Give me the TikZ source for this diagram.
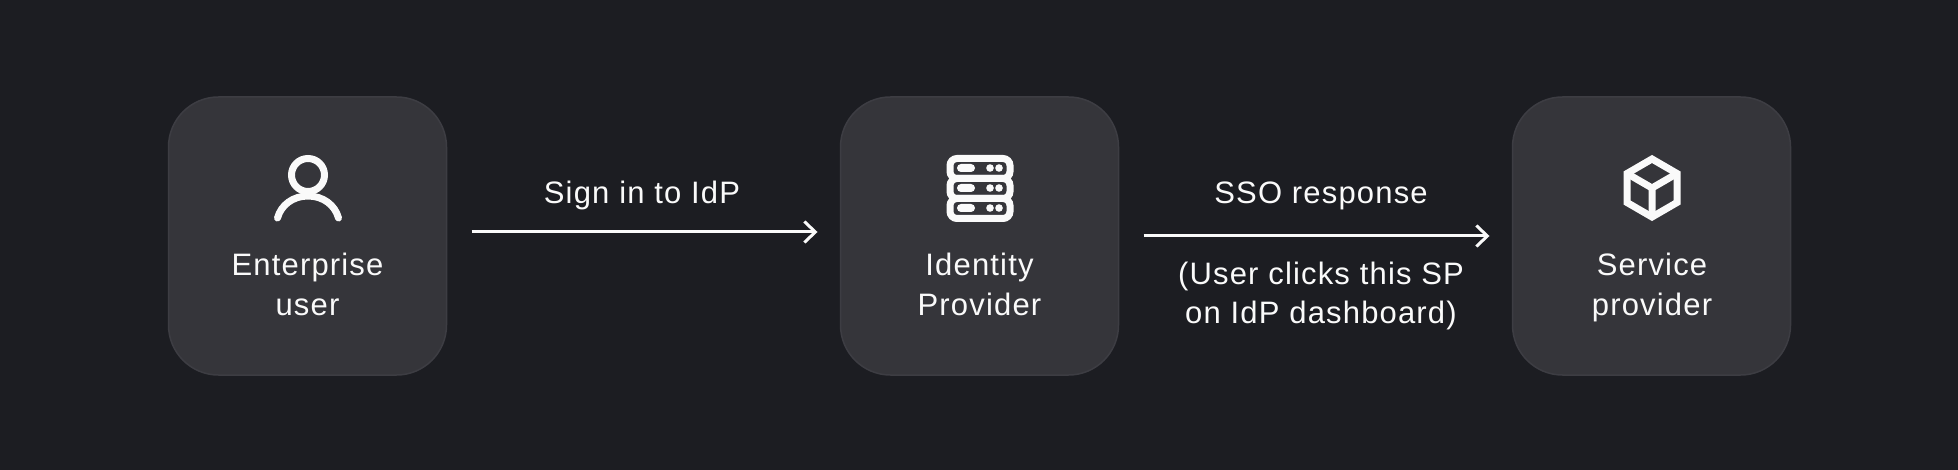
\documentclass[tikz,border=0pt]{standalone}
\usepackage{fontspec}
\setmainfont[LetterSpace=3.8]{Liberation Sans}
\usetikzlibrary{positioning,arrows.meta}
\definecolor{pagebg}{HTML}{1C1D22}
\definecolor{cardfill}{HTML}{35353A}
\definecolor{cardline}{HTML}{3D3D43}
\definecolor{inkwhite}{HTML}{FAFAFA}
\tikzset{
	card/.style={draw=cardline,line width=1.5pt,fill=cardfill,rounded corners=50pt,minimum size=278pt,inner sep=0pt,outer sep=0pt},
	caption/.style={text=inkwhite,align=center,inner sep=0pt,font=\fontsize{31}{40}\selectfont},
	flow/.style={draw=inkwhite,line width=3pt,-{Straight Barb[length=11pt,width=21pt,line width=3pt]}},
	icon/.style={draw=inkwhite,line width=7pt},
}
\begin{document}
\begin{tikzpicture}[x=1pt,y=-1pt]
\fill[pagebg] (0,0) rectangle (1958,470);
\useasboundingbox (0,0) rectangle (1958,470);
\node[card] (user) at (307.5,236) {};
\node[card,right=394pt of user] (idp) {};
\node[card,right=394pt of idp] (sp) {};
\node[caption,anchor=base] (userlabel) at (307.5,315) {Enterprise\\user};
\node[caption,anchor=base] (idplabel) at (979.5,315) {Identity\\Provider};
\node[caption,anchor=base] (splabel) at (1652,315) {Service\\provider};
\node[caption,anchor=base] (signlabel) at (642,204) {Sign in to IdP};
\node[caption,anchor=base] (ssolabel) at (1321,204) {SSO response};
\node[caption,anchor=base] (clicklabel) at (1321,323) {(User clicks this SP\\[-1pt]on IdP dashboard)};
\draw[flow] ([xshift=25pt,yshift=4pt]user.east) -- ([xshift=-23pt,yshift=4pt]idp.west);
\draw[flow] ([xshift=25pt]idp.east) -- ([xshift=-23pt]sp.west);
% person
\draw[icon] (308,175) circle (16.5);
\draw[icon,line cap=round] (277.5,218) .. controls (281,205) and (293,196) .. (308,196) .. controls (323,196) and (335,205) .. (338.5,218);
% server
\foreach \y in {0,20,40}{
	\draw[icon,rounded corners=7pt] (950,158.5+\y) rectangle (1010,178.5+\y);
	\fill[inkwhite,rounded corners=4pt] (957,164+\y) rectangle (975,172+\y);
	\fill[inkwhite] (990,168+\y) circle (3.8) (999,168+\y) circle (3.8);
}
% cube
\draw[icon,line join=miter] (1652,159) -- (1677,173.5) -- (1677,202.5) -- (1652,217) -- (1627,202.5) -- (1627,173.5) -- cycle;
\draw[icon] (1627,173.5) -- (1652,188) -- (1677,173.5) (1652,188) -- (1652,217);
\end{tikzpicture}
\end{document}
